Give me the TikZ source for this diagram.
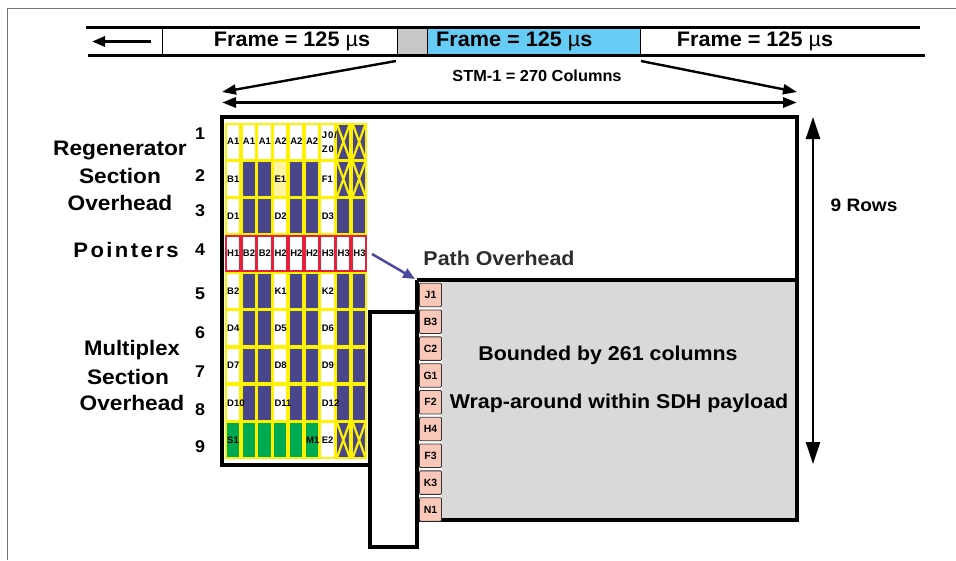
\documentclass[tikz,border=0pt]{standalone}
\usepackage{fontspec}
\setmainfont{Liberation Sans}
\usetikzlibrary{arrows.meta}
\definecolor{ovdark}{RGB}{74,70,140}
\definecolor{ovyellow}{RGB}{255,242,0}
\definecolor{ovred}{RGB}{232,32,58}
\definecolor{ovgreen}{RGB}{0,170,80}
\definecolor{ovlight}{RGB}{255,245,160}
\definecolor{pohfill}{RGB}{250,200,185}
\definecolor{paygray}{RGB}{217,217,217}
\definecolor{cyanbox}{RGB}{102,204,245}
\definecolor{graybox}{RGB}{200,200,200}
\definecolor{arrowblue}{RGB}{75,74,156}
\definecolor{textgray}{RGB}{45,45,45}
\newcommand\ftx[3]{{\fontsize{#1}{#1}\selectfont\bfseries\scalebox{#2}[1]{#3}}}
\newcommand\ohW{15.78}
\newcommand\ohH{37.3}
\newcommand\ohbase[3]{\fill[#3] (#1,#2) rectangle ++(\ohW,\ohH);}
\newcommand\ohin[3]{\fill[#3] ({#1+1.8},{#2+1.8}) rectangle ({#1+\ohW-1.8},{#2+\ohH-1.8});}
\newcommand\ohcw[2]{\ohbase{#1}{#2}{ovyellow}\ohin{#1}{#2}{white}}
\newcommand\ohcd[2]{\ohbase{#1}{#2}{ovyellow}\ohin{#1}{#2}{ovdark}}
\newcommand\ohce[2]{\ohbase{#1}{#2}{ovyellow}\ohin{#1}{#2}{ovlight}}
\newcommand\ohcp[2]{\ohbase{#1}{#2}{ovred}\ohin{#1}{#2}{white}}
\newcommand\ohcg[2]{\ohbase{#1}{#2}{ovyellow}\ohin{#1}{#2}{ovgreen}}
\newcommand\ohcx[2]{\ohbase{#1}{#2}{ovyellow}\ohin{#1}{#2}{ovdark}%
  \draw[ovyellow,line width=2.2pt] ({#1+1.8},{#2+1.8}) -- ({#1+\ohW-1.8},{#2+\ohH-1.8})
    ({#1+\ohW-1.8},{#2+1.8}) -- ({#1+1.8},{#2+\ohH-1.8});}
\newcommand\ohdata{{w/A1,w/A1,w/A1,w/A2,w/A2,w/A2,w/,x/,x/},
 {w/B1,d/,d/,e/E1,d/,d/,w/F1,x/,x/},
 {w/D1,d/,d/,w/D2,d/,d/,w/D3,d/,d/},
 {p/H1,p/B2,p/B2,p/H2,p/H2,p/H2,p/H3,p/H3,p/H3},
 {w/B2,d/,d/,w/K1,d/,d/,w/K2,d/,d/},
 {w/D4,d/,d/,w/D5,d/,d/,w/D6,d/,d/},
 {w/D7,d/,d/,w/D8,d/,d/,w/D9,d/,d/},
 {w/D10,d/,d/,w/D11,d/,d/,w/D12,d/,d/},
 {g/S1,g/,g/,g/,g/,g/M1,w/E2,x/,x/}}
\begin{document}
\begin{tikzpicture}[x=1pt,y=-1pt,
  txt/.style={inner sep=0pt,anchor=center},
  lbl/.style={inner sep=0pt,anchor=west,font=\fontsize{9.5}{9.5}\selectfont\bfseries},
  frm/.style={line width=4.6pt,line join=miter},
  bar/.style={line width=3pt},
  fbox/.style={draw=black,line width=1pt,inner sep=0pt,minimum height=28.5pt},
  conv/.style={line width=2.4pt,-{Triangle[length=14pt,width=10pt]}},
  pohcell/.style={draw=black!80,line width=0.8pt,fill=pohfill,rounded corners=1pt,
    minimum width=22pt,minimum height=23.5pt,inner sep=0pt,
    font=\fontsize{10.5}{10.5}\selectfont\bfseries}]
\useasboundingbox (0,0) rectangle (956,560);
\draw[black!55,line width=1pt] (7.5,560) -- (7.5,8) -- (956,8);

% ---- top frame bar
\node[fbox,fill=white,minimum width=235pt] (fbox1) at (279.5,41.25) {};
\node[fbox,fill=graybox,minimum width=30pt] (gbox) at (412,41.25) {};
\node[fbox,fill=cyanbox,minimum width=213pt] (cbox) at (533.5,41.25) {};
\draw[bar] (86,27) -- (920,27);
\draw[bar] (88,55.5) -- (925,55.5);
\coordinate (la0) at (151,41.5);
\coordinate (la1) at (92,41.5);
\draw[bar,-{Triangle[length=13pt,width=10pt]}] (la0) -- (la1);
\node[txt] (fr1) at (292,41.5) {\ftx{21}{1.03}{Frame = 125 {\mdseries µ}s}};
\node[txt,anchor=west] (fr2) at (436,41.5) {\ftx{21}{1.03}{Frame = 125 {\mdseries µ}s}};
\node[txt] (fr3) at (755,41.5) {\ftx{21}{1.03}{Frame = 125 {\mdseries µ}s}};

% ---- converging arrows and width arrow
\coordinate (cl0) at (396,61);
\coordinate (cl1) at (222,92);
\coordinate (cr0) at (641,61);
\coordinate (cr1) at (797,92);
\draw[conv] (cl0) -- (cl1);
\draw[conv] (cr0) -- (cr1);
\node[txt] (stm) at (537,76) {\ftx{16}{1.02}{STM-1 = 270 Columns}};
\coordinate (wl) at (222,102.5);
\coordinate (wr) at (797,102.5);
\draw[line width=3pt,{Triangle[length=14pt,width=10pt]}-{Triangle[length=14pt,width=10pt]}] (wl) -- (wr);

% ---- payload fills
\fill[paygray] (417,280) rectangle (797,520);
\fill[white] (417,280) rectangle (442,520);

% ---- overhead grid (fills)
\foreach \rowdata [count=\r] in \ohdata {
  \foreach \t/\l [count=\c] in \rowdata {
    \pgfmathsetmacro\xa{225+(\c-1)*\ohW}
    \pgfmathsetmacro\ya{123+(\r-1)*\ohH}
    \csname ohc\t\endcsname{\xa}{\ya}
  }
}
% ---- overhead grid (labels)
\foreach \rowdata [count=\r] in \ohdata {
  \foreach \t/\l [count=\c] in \rowdata {
    \node[lbl] (c\r-\c) at ({225+(\c-1)*\ohW+2},{123+(\r-1)*\ohH+\ohH/2}) {\l};
  }
}
\node[lbl] (jz1) at ({225+6*\ohW+2},135.5) {J\kern1pt0\kern1pt/};
\node[lbl] (jz2) at ({225+6*\ohW+2},149) {Z\kern1pt0};

% ---- frame outline
\draw[frm] (370,465) -- (222,465) -- (222,117) -- (797,117) -- (797,520) -- (417,520);
\draw[frm] (417,280) -- (797,280);
\draw[frm] (417,280) -- (417,547) -- (370,547) -- (370,312) -- (417,312);

% ---- path overhead column
\foreach \b [count=\i] in {J1,B3,C2,G1,F2,H4,F3,K3,N1} {
  \node[pohcell] (poh\i) at (430.5,{295+(\i-1)*26.8}) {\b};
}

% ---- pointer arrow
\coordinate (ptrend) at (372,254);
\coordinate (pohcorner) at (415,279);
\draw[arrowblue,line width=2.5pt,-{Triangle[length=12pt,width=10pt]}] (ptrend) -- (pohcorner);
\node[txt,text=textgray] (pathoh) at (499,258) {\ftx{20}{1.07}{Path Overhead}};
\node[txt] (bounded) at (608,355) {\ftx{20}{1.07}{Bounded by 261 columns}};
\node[txt] (wrap) at (619,403) {\ftx{20}{1.07}{Wrap-around within SDH payload}};

% ---- 9 rows arrow
\coordinate (rt) at (813,117);
\coordinate (rb) at (813,464);
\draw[line width=2.5pt,{Triangle[length=22pt,width=14pt]}-{Triangle[length=22pt,width=14pt]}] (rt) -- (rb);
\node[txt] (rows) at (864,205) {\ftx{18}{1.06}{9 Rows}};

% ---- left labels
\node[txt] (rs1) at (120,150) {\ftx{21}{1.08}{Regenerator}};
\node[txt] (rs2) at (120,176) {\ftx{21}{1.08}{Section}};
\node[txt] (rs3) at (120,203) {\ftx{21}{1.08}{Overhead}};
\node[txt] (ptr) at (126,250) {\ftx{21}{1.05}{P\kern2.3pt o\kern2.3pt i\kern2.3pt n\kern2.3pt t\kern2.3pt e\kern2.3pt r\kern2.3pt s}};
\node[txt] (ms1) at (132,350) {\ftx{21}{1.05}{Multiplex}};
\node[txt] (ms2) at (128,377) {\ftx{21}{1.08}{Section}};
\node[txt] (ms3) at (132,403) {\ftx{21}{1.08}{Overhead}};
\foreach \n/\yy in {1/134,2/176,3/211,4/250,5/294,6/333,7/372,8/410,9/447} {
  \node[txt] (rn\n) at (200,\yy) {\ftx{17}{1.05}{\n}};
}
\end{tikzpicture}
\end{document}
